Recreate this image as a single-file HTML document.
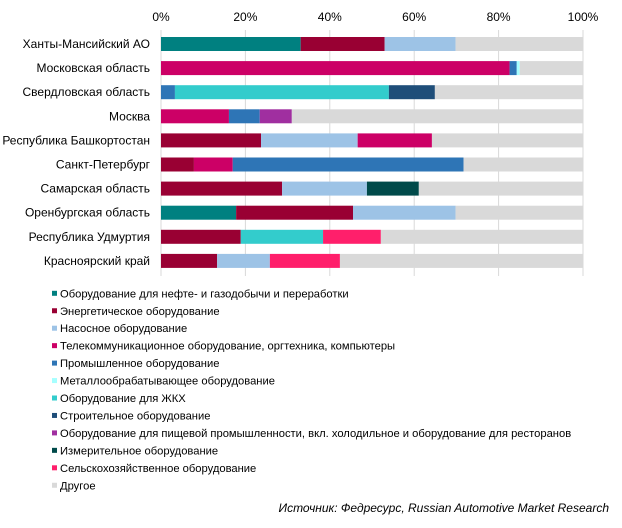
<!DOCTYPE html>
<html><head><meta charset="utf-8">
<style>
html,body{margin:0;padding:0;background:#fff;}
svg{display:block;font-family:"Liberation Sans",Arial,sans-serif;}
</style></head>
<body>
<svg id="chart" width="622" height="528" viewBox="0 0 622 528" xmlns="http://www.w3.org/2000/svg">
<g id="grid"></g>
<g id="xticks"></g>
<g id="bars"></g>
<g id="cats"></g>
<g id="legend"></g>
<text x="609" y="512" text-anchor="end" font-size="12" font-style="italic" fill="#000">Источник: Федресурс, Russian Automotive Market Research</text>
</svg>
<script>
const categories = ["Ханты-Мансийский АО","Московская область","Свердловская область","Москва","Республика Башкортостан","Санкт-Петербург","Самарская область","Оренбургская область","Республика Удмуртия","Красноярский край"];
const seriesNames = ["Оборудование для нефте- и газодобычи и переработки","Энергетическое оборудование","Насосное оборудование","Телекоммуникационное оборудование, оргтехника, компьютеры","Промышленное оборудование","Металлообрабатывающее оборудование","Оборудование для ЖКХ","Строительное оборудование","Оборудование для пищевой промышленности, вкл. холодильное и оборудование для ресторанов","Измерительное оборудование","Сельскохозяйственное оборудование","Другое"];
const seriesColors = ["#008080","#990033","#9DC3E6","#CC0066","#2E75B6","#A6FFFF","#33CCCC","#1F4E79","#A02FA0","#004A4A","#FF1F6B","#D9D9D9"];
// values per series (percent), indexed by category
const sOil    = [33.1,0,0,0,0,0,0,17.8,0,0];
const sEnergy = [19.9,0,0,0,23.7,7.8,28.7,27.7,18.9,13.3];
const sPump   = [16.8,0,0,0,22.9,0,20.1,24.3,0,12.5];
const sTelecom= [0,82.6,0,16.1,17.6,9.2,0,0,0,0];
const sIndust = [0,1.7,3.3,7.3,0,54.7,0,0,0,0];
const sMetal  = [0,0.7,0,0,0,0,0,0,0,0];
const sHousing= [0,0,50.7,0,0,0,0,0,19.5,0];
const sBuild  = [0,0,10.9,0,0,0,0,0,0,0];
const sFood   = [0,0,0,7.6,0,0,0,0,0,0];
const sMeasure= [0,0,0,0,0,0,12.3,0,0,0];
const sAgri   = [0,0,0,0,0,0,0,0,13.7,16.6];
const sOther  = [30.2,15.0,35.1,69.0,35.8,28.3,38.9,30.2,47.9,57.6];
const series = [sOil,sEnergy,sPump,sTelecom,sIndust,sMetal,sHousing,sBuild,sFood,sMeasure,sAgri,sOther];
const tickValues = [0,20,40,60,80,100];
const tickLabels = ["0%","20%","40%","60%","80%","100%"];

const NS="http://www.w3.org/2000/svg";
const x0=161, x1=583;
const xScale=v=>x0+(x1-x0)*v/100;
const yCenter=i=>44+i*24.1;
const barH=14;
function mk(tag,attrs,parent){const e=document.createElementNS(NS,tag);for(const k in attrs)e.setAttribute(k,attrs[k]);parent.appendChild(e);return e;}

const grid=document.getElementById('grid'), xt=document.getElementById('xticks');
tickValues.forEach((v,i)=>{
  const l=mk('line',{x1:xScale(v),x2:xScale(v),y1:30,y2:276,stroke:'#D9D9D9','stroke-width':1},grid);
  
  
  const t=mk('text',{x:xScale(v),y:21,'text-anchor':'middle','font-size':12,fill:'#000'},xt);
  t.textContent=tickLabels[i];
  
  
});

const bars=document.getElementById('bars'), cats=document.getElementById('cats');
categories.forEach((c,i)=>{
  const t=mk('text',{x:150,y:yCenter(i)+4,'text-anchor':'end','font-size':12,fill:'#000'},cats);
  t.textContent=c;
  
  
  let acc=0;
  series.forEach((s,k)=>{
    const v=s[i]; if(!v) return;
    const r=mk('rect',{x:xScale(acc),y:yCenter(i)-barH/2,width:xScale(acc+v)-xScale(acc),height:barH,fill:seriesColors[k]},bars);
    
    
    acc+=v;
  });
});

const lg=document.getElementById('legend');
seriesNames.forEach((n,k)=>{
  const y=293.3+k*17.45;
  const g=mk('g',{},lg);
  
  
  mk('rect',{x:52,y:y-2.5,width:5,height:5,fill:seriesColors[k]},g);
  const t=mk('text',{x:60,y:y+4,'font-size':11.2,fill:'#000'},g);
  t.textContent=n;
});
</script>
</body></html>
